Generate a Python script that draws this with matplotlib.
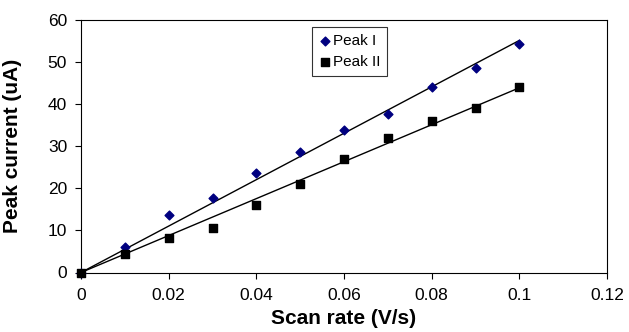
import numpy as np
import matplotlib
matplotlib.use("Agg")
import matplotlib.pyplot as plt

plt.rcParams['font.family'] = ['Liberation Sans', 'DejaVu Sans']

scan_rate = [0, 0.01, 0.02, 0.03, 0.04, 0.05, 0.06, 0.07, 0.08, 0.09, 0.1]
peak1 = [0, 6.0, 13.6, 17.6, 23.5, 28.6, 33.9, 37.7, 43.9, 48.5, 54.1]
peak2 = [0, 4.5, 8.1, 10.5, 16.0, 21.0, 27.0, 31.9, 36.0, 39.1, 44.0]

fig = plt.figure(figsize=(6.29, 3.32), dpi=100)
ax = fig.add_axes([81 / 629, 1 - 272.5 / 332, 526 / 629, 253 / 332])

x = np.array(scan_rate)
xs = np.array([0, 0.1])
# linear trend lines forced through the origin
for y in (peak1, peak2):
    y = np.array(y)
    k = (x * y).sum() / (x * x).sum()
    ax.plot(xs, k * xs, color='black', lw=1, zorder=2)

ax.scatter(scan_rate, peak1, marker='D', s=20, color='#000080', label='Peak I',
           zorder=3, clip_on=False)
ax.scatter(scan_rate, peak2, marker='s', s=33, color='black', label='Peak II',
           zorder=3, clip_on=False)

ax.set_xlim(0, 0.12)
ax.set_ylim(0, 60)
ax.set_xticks([0, 0.02, 0.04, 0.06, 0.08, 0.1, 0.12])
ax.set_xticklabels(['0', '0.02', '0.04', '0.06', '0.08', '0.1', '0.12'])
ax.set_yticks(range(0, 61, 10))
ax.tick_params(labelsize=12.5, direction='out', length=4)
ax.tick_params(axis='y', pad=6)
ax.tick_params(axis='x', pad=7)
ax.set_xlabel('Scan rate (V/s)', fontsize=15, fontweight='bold')
ax.set_ylabel('Peak current (uA)', fontsize=15, fontweight='bold')
ax.yaxis.set_label_coords(-(81 - 22) / 526, 0.5)
ax.xaxis.set_label_coords(0.5, -0.145)

leg = ax.legend(loc='upper left', bbox_to_anchor=(0.4386, 0.971), fontsize=11,
                frameon=True, fancybox=False, edgecolor='black',
                handletextpad=0.15, handlelength=0.8, borderpad=0.45,
                labelspacing=0.5, borderaxespad=0)
leg.get_frame().set_linewidth(0.8)

fig.savefig('out.png', dpi=100)
